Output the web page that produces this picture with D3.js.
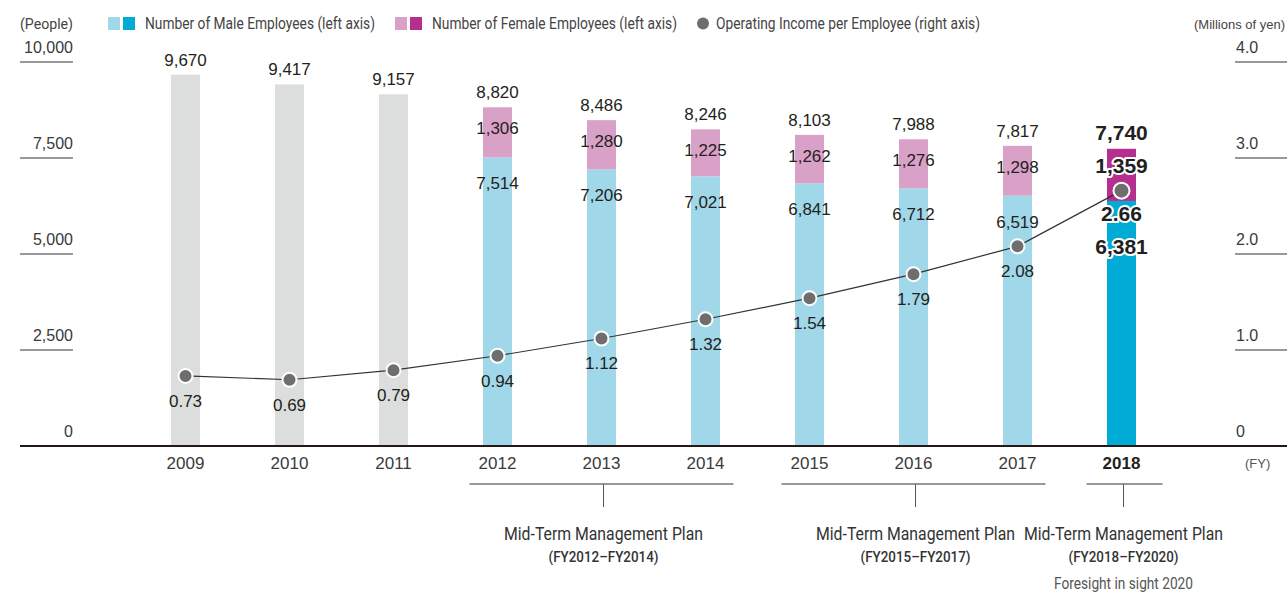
<!DOCTYPE html>
<html>
<head>
<meta charset="utf-8">
<script src="https://cdn.jsdelivr.net/npm/d3@7"></script>
<style>
  body { margin: 0; background: #fff; }
  svg { display: block; }
  .narrow { font-family: Roboto, "Liberation Sans", sans-serif; }
  .num { font-family: "Liberation Sans", Arial, sans-serif; }
</style>
</head>
<body>
<div id="plot"></div>
<script>
// data
const years = [2009, 2010, 2011, 2012, 2013, 2014, 2015, 2016, 2017, 2018];
const totals = [9670, 9417, 9157, 8820, 8486, 8246, 8103, 7988, 7817, 7740];
const male = [null, null, null, 7514, 7206, 7021, 6841, 6712, 6519, 6381];
const female = [null, null, null, 1306, 1280, 1225, 1262, 1276, 1298, 1359];
const income = [0.73, 0.69, 0.79, 0.94, 1.12, 1.32, 1.54, 1.79, 2.08, 2.66];
const leftTicks = [0, 2500, 5000, 7500, 10000];
const rightTicks = [0, 1.0, 2.0, 3.0, 4.0];
const plans = [
  { from: 2012, to: 2014, mid: 2013, title: "Mid-Term Management Plan", period: "(FY2012\u2013FY2014)", note: "" },
  { from: 2015, to: 2017, mid: 2016, title: "Mid-Term Management Plan", period: "(FY2015\u2013FY2017)", note: "" },
  { from: 2018, to: 2018, mid: 2018, title: "Mid-Term Management Plan", period: "(FY2018\u2013FY2020)", note: "Foresight in sight 2020" }
];

const W = 1287, H = 593;
const baseY = 446, topY = 62;
const barW = 29;
const current = 2018;

const col = {
  gray: "#dcdddd", male: "#a0d7e9", female: "#daa1c8",
  maleNow: "#00acd5", femaleNow: "#b5308e",
  dot: "#6e6e6e", text: "#231f20", axis: "#231815"
};

const svg = d3.select("#plot").append("svg")
  .attr("width", W).attr("height", H);

const x = d3.scalePoint().domain(years).range([185.5, 1121.5]);
const y = d3.scaleLinear().domain([0, 10000]).range([baseY, topY]);
const y2 = d3.scaleLinear().domain([0, 4]).range([baseY, topY]);

const rows = years.map((yr, i) => ({ yr, total: totals[i], male: male[i], female: female[i], inc: income[i] }));

// condensed-looking text: squeeze a regular face into the width seen in the reference
function narrowText(sel, w) {
  return sel.attr("textLength", w).attr("lengthAdjust", "spacingAndGlyphs");
}

// left axis ticks (underlined labels)
svg.append("g").selectAll("line").data(leftTicks.filter(d => d > 0)).join("line")
  .attr("x1", 20).attr("x2", 73)
  .attr("y1", d => y(d)).attr("y2", d => y(d))
  .attr("stroke", "#333").attr("stroke-width", 1);
svg.append("g").selectAll("text").data(leftTicks).join("text")
  .attr("class", "num")
  .attr("x", 73).attr("y", d => y(d) - 9)
  .attr("text-anchor", "end").attr("font-size", 16).attr("fill", "#3a3a3a")
  .text(d => d3.format(",")(d));

// right axis ticks
svg.append("g").selectAll("line").data(rightTicks.filter(d => d > 0)).join("line")
  .attr("x1", 1235).attr("x2", W)
  .attr("y1", d => y2(d)).attr("y2", d => y2(d))
  .attr("stroke", "#333").attr("stroke-width", 1);
svg.append("g").selectAll("text").data(rightTicks).join("text")
  .attr("class", "num")
  .attr("x", 1236).attr("y", d => y2(d) - 9)
  .attr("font-size", 16).attr("fill", "#3a3a3a")
  .text(d => d === 0 ? "0" : d3.format(".1f")(d));

// unit labels
narrowText(svg.append("text").attr("class", "narrow").attr("x", 20).attr("y", 29)
  .attr("font-size", 15).attr("fill", "#444").text("(People)"), 53);
svg.append("text").attr("class", "num").attr("x", 1285).attr("y", 29)
  .attr("text-anchor", "end").attr("font-size", 13).attr("fill", "#444").text("(Millions of yen)");

// legend
const lg = svg.append("g").attr("class", "narrow");
lg.append("rect").attr("x", 108).attr("y", 17).attr("width", 12).attr("height", 13).attr("fill", col.male);
lg.append("rect").attr("x", 123).attr("y", 17).attr("width", 12).attr("height", 13).attr("fill", col.maleNow);
narrowText(lg.append("text").attr("x", 145).attr("y", 29).attr("font-size", 16).attr("fill", "#444")
  .text("Number of Male Employees (left axis)"), 230);
lg.append("rect").attr("x", 395).attr("y", 17).attr("width", 12).attr("height", 13).attr("fill", col.female);
lg.append("rect").attr("x", 410).attr("y", 17).attr("width", 12).attr("height", 13).attr("fill", col.femaleNow);
narrowText(lg.append("text").attr("x", 432).attr("y", 29).attr("font-size", 16).attr("fill", "#444")
  .text("Number of Female Employees (left axis)"), 245);
lg.append("circle").attr("cx", 703).attr("cy", 23.5).attr("r", 6).attr("fill", col.dot);
narrowText(lg.append("text").attr("x", 716).attr("y", 29).attr("font-size", 16).attr("fill", "#444")
  .text("Operating Income per Employee (right axis)"), 264);

// bars
const bars = svg.append("g");
rows.forEach(d => {
  const bx = x(d.yr) - barW / 2;
  if (d.male == null) {
    bars.append("rect").attr("x", bx).attr("width", barW)
      .attr("y", y(d.total)).attr("height", baseY - y(d.total)).attr("fill", col.gray);
  } else {
    const now = d.yr === current;
    bars.append("rect").attr("x", bx).attr("width", barW)
      .attr("y", y(d.male)).attr("height", baseY - y(d.male))
      .attr("fill", now ? col.maleNow : col.male);
    bars.append("rect").attr("x", bx).attr("width", barW)
      .attr("y", y(d.total)).attr("height", y(d.male) - y(d.total))
      .attr("fill", now ? col.femaleNow : col.female);
  }
});

// baseline
svg.append("line").attr("x1", 20).attr("x2", W).attr("y1", baseY).attr("y2", baseY)
  .attr("stroke", col.axis).attr("stroke-width", 2);

// income line + dots
const line = d3.line().x(d => x(d.yr)).y(d => y2(d.inc));
svg.append("path").datum(rows).attr("d", line)
  .attr("fill", "none").attr("stroke", "#333").attr("stroke-width", 1.2);
svg.append("g").selectAll("circle").data(rows).join("circle")
  .attr("cx", d => x(d.yr)).attr("cy", d => y2(d.inc))
  .attr("r", d => d.yr === current ? 8 : 7)
  .attr("fill", col.dot).attr("stroke", "#fff").attr("stroke-width", 2);

// value labels
const fmt = d3.format(",");
const labels = svg.append("g").attr("class", "num").attr("text-anchor", "middle");
function label(xp, yp, txt, now) {
  const t = labels.append("text").attr("x", xp).attr("y", yp).attr("dy", "0.35em")
    .attr("fill", col.text).text(txt);
  if (now) {
    t.attr("font-size", 21).attr("font-weight", "bold")
      .attr("stroke", "#fff").attr("stroke-width", 4).attr("stroke-linejoin", "round")
      .attr("paint-order", "stroke");
  } else {
    t.attr("font-size", 17);
  }
}
rows.forEach(d => {
  const cx = x(d.yr);
  const now = d.yr === current;
  label(cx, y(d.total) - (now ? 16 : 15), fmt(d.total), now);
  if (d.male != null) {
    label(cx, y(d.total) + (now ? 17 : 21), fmt(d.female), now);
    label(cx, y(d.male) + (now ? 46 : 26), fmt(d.male), now);
  }
  label(cx, y2(d.inc) + (now ? 23 : 25), d3.format(".2f")(d.inc), now);
});

// x axis year labels
svg.append("g").attr("class", "num").selectAll("text").data(years).join("text")
  .attr("x", d => x(d)).attr("y", 469).attr("text-anchor", "middle")
  .attr("font-size", 17)
  .attr("font-weight", d => d === current ? "bold" : "normal")
  .attr("fill", d => d === current ? col.text : "#3a3a3a")
  .text(d => d);
svg.append("text").attr("class", "num").attr("x", 1245).attr("y", 468)
  .attr("font-size", 13).attr("fill", "#555").text("(FY)");

// plan brackets
const pg = svg.append("g").selectAll("g").data(plans).join("g");
pg.append("line")
  .attr("x1", d => x(d.from) - (d.from === d.to ? 35 : 28))
  .attr("x2", d => x(d.to) + (d.from === d.to ? 41 : 28))
  .attr("y1", 484).attr("y2", 484).attr("stroke", "#333").attr("stroke-width", 1);
pg.append("line")
  .attr("x1", d => x(d.mid) + 2).attr("x2", d => x(d.mid) + 2)
  .attr("y1", 484).attr("y2", 507).attr("stroke", "#555").attr("stroke-width", 1);
pg.append("text").attr("class", "narrow")
  .attr("x", d => x(d.mid) + 2).attr("y", 540).attr("text-anchor", "middle")
  .attr("font-size", 18).attr("fill", "#333").text(d => d.title)
  .call(narrowText, 199);
pg.append("text").attr("class", "narrow")
  .attr("x", d => x(d.mid) + 2).attr("y", 562).attr("text-anchor", "middle")
  .attr("font-size", 15).attr("font-weight", 500).attr("fill", "#333").text(d => d.period)
  .call(narrowText, 110);
pg.filter(d => d.note).append("text").attr("class", "narrow")
  .attr("x", d => x(d.mid) + 2).attr("y", 589).attr("text-anchor", "middle")
  .attr("font-size", 16).attr("fill", "#555").text(d => d.note)
  .call(narrowText, 139);
</script>
</body>
</html>
